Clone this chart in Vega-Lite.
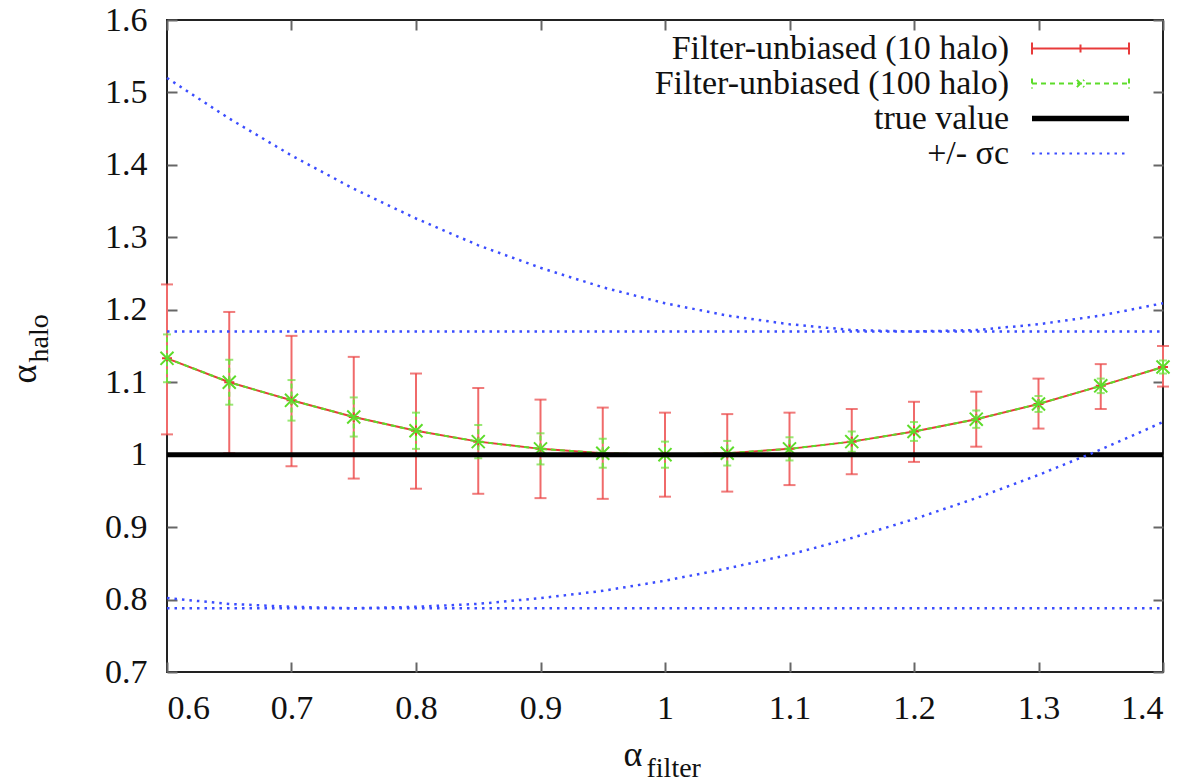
{
  "$schema": "https://vega.github.io/schema/vega-lite/v6.json",
  "width": 996,
  "height": 652,
  "autosize": {"type": "none"},
  "padding": {"left": 167, "top": 20, "right": 27, "bottom": 111},
  "background": "white",
  "datasets": {
    "main": [
      {"x": 0.6, "series": "Filter-unbiased (10 halo)", "c": 1.133, "lo": 1.028, "hi": 1.235},
      {"x": 0.65, "series": "Filter-unbiased (10 halo)", "c": 1.100, "lo": 1.002, "hi": 1.197},
      {"x": 0.7, "series": "Filter-unbiased (10 halo)", "c": 1.075, "lo": 0.984, "hi": 1.164},
      {"x": 0.75, "series": "Filter-unbiased (10 halo)", "c": 1.052, "lo": 0.967, "hi": 1.135},
      {"x": 0.8, "series": "Filter-unbiased (10 halo)", "c": 1.033, "lo": 0.953, "hi": 1.112},
      {"x": 0.85, "series": "Filter-unbiased (10 halo)", "c": 1.018, "lo": 0.946, "hi": 1.092},
      {"x": 0.9, "series": "Filter-unbiased (10 halo)", "c": 1.008, "lo": 0.940, "hi": 1.076},
      {"x": 0.95, "series": "Filter-unbiased (10 halo)", "c": 1.002, "lo": 0.939, "hi": 1.065},
      {"x": 1.0, "series": "Filter-unbiased (10 halo)", "c": 1.000, "lo": 0.942, "hi": 1.058},
      {"x": 1.05, "series": "Filter-unbiased (10 halo)", "c": 1.002, "lo": 0.949, "hi": 1.056},
      {"x": 1.1, "series": "Filter-unbiased (10 halo)", "c": 1.008, "lo": 0.958, "hi": 1.058},
      {"x": 1.15, "series": "Filter-unbiased (10 halo)", "c": 1.018, "lo": 0.973, "hi": 1.063},
      {"x": 1.2, "series": "Filter-unbiased (10 halo)", "c": 1.032, "lo": 0.990, "hi": 1.073},
      {"x": 1.25, "series": "Filter-unbiased (10 halo)", "c": 1.049, "lo": 1.011, "hi": 1.087},
      {"x": 1.3, "series": "Filter-unbiased (10 halo)", "c": 1.070, "lo": 1.036, "hi": 1.105},
      {"x": 1.35, "series": "Filter-unbiased (10 halo)", "c": 1.095, "lo": 1.063, "hi": 1.125},
      {"x": 1.4, "series": "Filter-unbiased (10 halo)", "c": 1.121, "lo": 1.094, "hi": 1.150},
      {"x": 0.6, "series": "Filter-unbiased (100 halo)", "c": 1.133, "lo": 1.100, "hi": 1.166},
      {"x": 0.65, "series": "Filter-unbiased (100 halo)", "c": 1.100, "lo": 1.069, "hi": 1.131},
      {"x": 0.7, "series": "Filter-unbiased (100 halo)", "c": 1.075, "lo": 1.047, "hi": 1.103},
      {"x": 0.75, "series": "Filter-unbiased (100 halo)", "c": 1.052, "lo": 1.025, "hi": 1.079},
      {"x": 0.8, "series": "Filter-unbiased (100 halo)", "c": 1.033, "lo": 1.008, "hi": 1.058},
      {"x": 0.85, "series": "Filter-unbiased (100 halo)", "c": 1.018, "lo": 0.995, "hi": 1.041},
      {"x": 0.9, "series": "Filter-unbiased (100 halo)", "c": 1.008, "lo": 0.9865, "hi": 1.0295},
      {"x": 0.95, "series": "Filter-unbiased (100 halo)", "c": 1.002, "lo": 0.982, "hi": 1.022},
      {"x": 1.0, "series": "Filter-unbiased (100 halo)", "c": 1.000, "lo": 0.982, "hi": 1.018},
      {"x": 1.05, "series": "Filter-unbiased (100 halo)", "c": 1.002, "lo": 0.985, "hi": 1.019},
      {"x": 1.1, "series": "Filter-unbiased (100 halo)", "c": 1.008, "lo": 0.992, "hi": 1.024},
      {"x": 1.15, "series": "Filter-unbiased (100 halo)", "c": 1.018, "lo": 1.004, "hi": 1.032},
      {"x": 1.2, "series": "Filter-unbiased (100 halo)", "c": 1.032, "lo": 1.019, "hi": 1.045},
      {"x": 1.25, "series": "Filter-unbiased (100 halo)", "c": 1.049, "lo": 1.037, "hi": 1.061},
      {"x": 1.3, "series": "Filter-unbiased (100 halo)", "c": 1.070, "lo": 1.059, "hi": 1.081},
      {"x": 1.35, "series": "Filter-unbiased (100 halo)", "c": 1.095, "lo": 1.085, "hi": 1.105},
      {"x": 1.4, "series": "Filter-unbiased (100 halo)", "c": 1.121, "lo": 1.112, "hi": 1.130}
    ],
    "truth": [
      {"x": 0.6, "y": 1.0, "series": "true value"},
      {"x": 1.4, "y": 1.0, "series": "true value"}
    ],
    "sigma": [
      {"x": 0.6, "y": 1.520, "curve": "upper", "series": "+/- σc"},
      {"x": 0.65, "y": 1.464, "curve": "upper", "series": "+/- σc"},
      {"x": 0.7, "y": 1.413, "curve": "upper", "series": "+/- σc"},
      {"x": 0.75, "y": 1.367, "curve": "upper", "series": "+/- σc"},
      {"x": 0.8, "y": 1.326, "curve": "upper", "series": "+/- σc"},
      {"x": 0.85, "y": 1.289, "curve": "upper", "series": "+/- σc"},
      {"x": 0.9, "y": 1.258, "curve": "upper", "series": "+/- σc"},
      {"x": 0.95, "y": 1.231, "curve": "upper", "series": "+/- σc"},
      {"x": 1.0, "y": 1.209, "curve": "upper", "series": "+/- σc"},
      {"x": 1.05, "y": 1.192, "curve": "upper", "series": "+/- σc"},
      {"x": 1.1, "y": 1.180, "curve": "upper", "series": "+/- σc"},
      {"x": 1.15, "y": 1.172, "curve": "upper", "series": "+/- σc"},
      {"x": 1.2, "y": 1.170, "curve": "upper", "series": "+/- σc"},
      {"x": 1.25, "y": 1.172, "curve": "upper", "series": "+/- σc"},
      {"x": 1.3, "y": 1.180, "curve": "upper", "series": "+/- σc"},
      {"x": 1.35, "y": 1.192, "curve": "upper", "series": "+/- σc"},
      {"x": 1.4, "y": 1.209, "curve": "upper", "series": "+/- σc"},
      {"x": 0.6, "y": 0.802, "curve": "lower", "series": "+/- σc"},
      {"x": 0.65, "y": 0.794, "curve": "lower", "series": "+/- σc"},
      {"x": 0.7, "y": 0.790, "curve": "lower", "series": "+/- σc"},
      {"x": 0.75, "y": 0.788, "curve": "lower", "series": "+/- σc"},
      {"x": 0.8, "y": 0.790, "curve": "lower", "series": "+/- σc"},
      {"x": 0.85, "y": 0.794, "curve": "lower", "series": "+/- σc"},
      {"x": 0.9, "y": 0.802, "curve": "lower", "series": "+/- σc"},
      {"x": 0.95, "y": 0.812, "curve": "lower", "series": "+/- σc"},
      {"x": 1.0, "y": 0.826, "curve": "lower", "series": "+/- σc"},
      {"x": 1.05, "y": 0.843, "curve": "lower", "series": "+/- σc"},
      {"x": 1.1, "y": 0.862, "curve": "lower", "series": "+/- σc"},
      {"x": 1.15, "y": 0.885, "curve": "lower", "series": "+/- σc"},
      {"x": 1.2, "y": 0.911, "curve": "lower", "series": "+/- σc"},
      {"x": 1.25, "y": 0.940, "curve": "lower", "series": "+/- σc"},
      {"x": 1.3, "y": 0.972, "curve": "lower", "series": "+/- σc"},
      {"x": 1.35, "y": 1.007, "curve": "lower", "series": "+/- σc"},
      {"x": 1.4, "y": 1.045, "curve": "lower", "series": "+/- σc"},
      {"x": 0.6, "y": 1.170, "curve": "hupper", "series": "+/- σc"},
      {"x": 1.4, "y": 1.170, "curve": "hupper", "series": "+/- σc"},
      {"x": 0.6, "y": 0.788, "curve": "hlower", "series": "+/- σc"},
      {"x": 1.4, "y": 0.788, "curve": "hlower", "series": "+/- σc"}
    ],
    "dummy": [{"x": 1.0, "y": 1.0}]
  },
  "layer": [
    {
      "layer": [
        {
          "data": {"name": "main"},
          "transform": [{"filter": "datum.series === 'Filter-unbiased (10 halo)'"}],
          "mark": {"type": "rule", "color": "#f06a6a", "strokeWidth": 2},
          "encoding": {
            "x": {
              "field": "x", "type": "quantitative",
              "scale": {"domain": [0.6, 1.4], "nice": false, "zero": false},
              "axis": {
                "values": [0.6, 0.7, 0.8, 0.9, 1.0, 1.1, 1.2, 1.3, 1.4],
                "format": "~g",
                "labelPadding": 19,
                "title": "α",
                "titleFontSize": 36,
                "titleX": 456,
                "titleY": 103,
                "titleAlign": "left",
                "titleBaseline": "alphabetic"
              }
            },
            "y": {
              "field": "lo", "type": "quantitative",
              "scale": {"domain": [0.7, 1.6], "nice": false, "zero": false},
              "axis": {
                "values": [0.7, 0.8, 0.9, 1.0, 1.1, 1.2, 1.3, 1.4, 1.5, 1.6],
                "format": "~g",
                "labelPadding": 20,
                "title": "α",
                "titleFontSize": 36,
                "titleAngle": 270,
                "titleX": -142,
                "titleY": 363,
                "titleAlign": "left",
                "titleBaseline": "alphabetic"
              }
            },
            "y2": {"field": "hi"}
          }
        },
        {
          "data": {"name": "main"},
          "transform": [
            {"filter": "datum.series === 'Filter-unbiased (10 halo)'"},
            {"fold": ["lo", "hi"], "as": ["end", "v"]}
          ],
          "mark": {"type": "tick", "orient": "horizontal", "color": "#ea4444", "size": 12, "thickness": 2},
          "encoding": {
            "x": {"field": "x", "type": "quantitative"},
            "y": {"field": "v", "type": "quantitative"}
          }
        },
        {
          "data": {"name": "main"},
          "transform": [{"filter": "datum.series === 'Filter-unbiased (10 halo)'"}],
          "mark": {"type": "line", "strokeWidth": 2},
          "encoding": {
            "x": {"field": "x", "type": "quantitative"},
            "y": {"field": "c", "type": "quantitative"},
            "color": {
              "field": "series", "type": "nominal",
              "scale": {
                "domain": ["Filter-unbiased (10 halo)", "Filter-unbiased (100 halo)", "true value", "+/- σc"],
                "range": ["#e83a3a", "#5ddc2a", "#000000", "#3b4dff"]
              },
              "legend": {
                "title": null,
                "orient": "none",
                "legendX": 896,
                "legendY": 11,
                "padding": 0,
                "labelFont": "Times New Roman, Liberation Serif, DejaVu Serif, serif",
                "labelFontSize": 34,
                "labelColor": "#111",
                "labelAlign": "right",
                "labelOffset": -89,
                "labelLimit": 700,
                "symbolSize": 1089,
                "symbolStrokeWidth": 2,
                "rowPadding": 0,
                "encode": {
                  "symbols": {
                    "update": {
                      "shape": {"signal": "datum.value === 'Filter-unbiased (10 halo)' ? 'M-2.94,0H2.94M-2.94,-0.36V0.36M2.94,-0.36V0.36M0,-0.24V0.24' : datum.value === 'Filter-unbiased (100 halo)' ? 'M-2.94,0H2.94M-2.94,-0.3V0.3M2.94,-0.3V0.3M-0.22,-0.22L0.22,0.22M-0.22,0.22L0.22,-0.22' : datum.value === 'true value' ? 'M-2.94,-0.1H2.94M-2.94,0H2.94M-2.94,0.1H2.94' : 'M-2.94,0H2.94'"},
                      "strokeDash": {"signal": "datum.value === 'Filter-unbiased (100 halo)' ? [5,4] : datum.value === '+/- σc' ? [2.5,5] : [1,0]"},
                      "fill": {"value": "transparent"}
                    }
                  }
                }
              }
            }
          }
        },
        {
          "data": {"name": "main"},
          "transform": [{"filter": "datum.series === 'Filter-unbiased (10 halo)'"}],
          "mark": {"type": "point", "shape": "M-1,0H1M0,-1V1", "size": 100, "filled": false, "color": "#e83a3a", "strokeWidth": 2, "opacity": 1},
          "encoding": {
            "x": {"field": "x", "type": "quantitative"},
            "y": {"field": "c", "type": "quantitative"}
          }
        },
        {
          "data": {"name": "main"},
          "transform": [{"filter": "datum.series === 'Filter-unbiased (100 halo)'"}],
          "mark": {"type": "rule", "color": "#6ee03a", "strokeWidth": 2, "strokeDash": [5, 3]},
          "encoding": {
            "x": {"field": "x", "type": "quantitative"},
            "y": {"field": "lo", "type": "quantitative"},
            "y2": {"field": "hi"}
          }
        },
        {
          "data": {"name": "main"},
          "transform": [
            {"filter": "datum.series === 'Filter-unbiased (100 halo)'"},
            {"fold": ["lo", "hi"], "as": ["end", "v"]}
          ],
          "mark": {"type": "tick", "orient": "horizontal", "color": "#6ee03a", "size": 8, "thickness": 2},
          "encoding": {
            "x": {"field": "x", "type": "quantitative"},
            "y": {"field": "v", "type": "quantitative"}
          }
        },
        {
          "data": {"name": "main"},
          "transform": [{"filter": "datum.series === 'Filter-unbiased (100 halo)'"}],
          "mark": {"type": "line", "strokeWidth": 2, "strokeDash": [5, 4]},
          "encoding": {
            "x": {"field": "x", "type": "quantitative"},
            "y": {"field": "c", "type": "quantitative"},
            "color": {"field": "series", "type": "nominal"}
          }
        },
        {
          "data": {"name": "main"},
          "transform": [{"filter": "datum.series === 'Filter-unbiased (100 halo)'"}],
          "mark": {"type": "point", "shape": "M-1,-1L1,1M-1,1L1,-1", "size": 170, "filled": false, "color": "#5ddc2a", "strokeWidth": 2, "opacity": 1},
          "encoding": {
            "x": {"field": "x", "type": "quantitative"},
            "y": {"field": "c", "type": "quantitative"}
          }
        },
        {
          "data": {"name": "truth"},
          "mark": {"type": "line", "strokeWidth": 5},
          "encoding": {
            "x": {"field": "x", "type": "quantitative"},
            "y": {"field": "y", "type": "quantitative"},
            "color": {"field": "series", "type": "nominal"}
          }
        },
        {
          "data": {"name": "sigma"},
          "mark": {"type": "line", "strokeWidth": 2.5, "strokeDash": [2.5, 5]},
          "encoding": {
            "x": {"field": "x", "type": "quantitative"},
            "y": {"field": "y", "type": "quantitative"},
            "detail": {"field": "curve", "type": "nominal"},
            "color": {"field": "series", "type": "nominal"}
          }
        }
      ]
    },
    {
      "data": {"name": "dummy"},
      "mark": {"type": "point", "opacity": 0},
      "encoding": {
        "x": {
          "field": "x", "type": "quantitative",
          "axis": {"orient": "top", "values": [0.6, 0.7, 0.8, 0.9, 1.0, 1.1, 1.2, 1.3, 1.4], "labels": false, "title": null}
        },
        "y": {
          "field": "y", "type": "quantitative",
          "axis": {"orient": "right", "values": [0.7, 0.8, 0.9, 1.0, 1.1, 1.2, 1.3, 1.4, 1.5, 1.6], "labels": false, "title": null}
        }
      }
    },
    {
      "data": {"name": "dummy"},
      "mark": {"type": "point", "opacity": 0},
      "encoding": {
        "x": {
          "field": "x", "type": "quantitative",
          "axis": {"orient": "bottom", "offset": 0, "ticks": false, "labels": false, "title": "filter", "titleFontSize": 28, "titleX": 479, "titleY": 104, "titleAlign": "left", "titleBaseline": "alphabetic"}
        },
        "y": {
          "field": "y", "type": "quantitative",
          "axis": {"orient": "left", "offset": 0, "ticks": false, "labels": false, "title": "halo", "titleFontSize": 28, "titleAngle": 270, "titleX": -120, "titleY": 342, "titleAlign": "left", "titleBaseline": "alphabetic"}
        }
      }
    }
  ],
  "resolve": {"axis": {"x": "independent", "y": "independent"}},
  "config": {
    "font": "Times New Roman, Liberation Serif, DejaVu Serif, serif",
    "view": {"stroke": "#222", "strokeWidth": 2},
    "axis": {
      "grid": false,
      "domain": false,
      "offset": -10,
      "labelFont": "Times New Roman, Liberation Serif, DejaVu Serif, serif",
      "labelFontSize": 34,
      "labelColor": "#111",
      "tickColor": "#666",
      "tickWidth": 2,
      "tickSize": 10,
      "titleFont": "Times New Roman, Liberation Serif, DejaVu Serif, serif",
      "titleFontWeight": "normal",
      "titleColor": "#111"
    }
  }
}
